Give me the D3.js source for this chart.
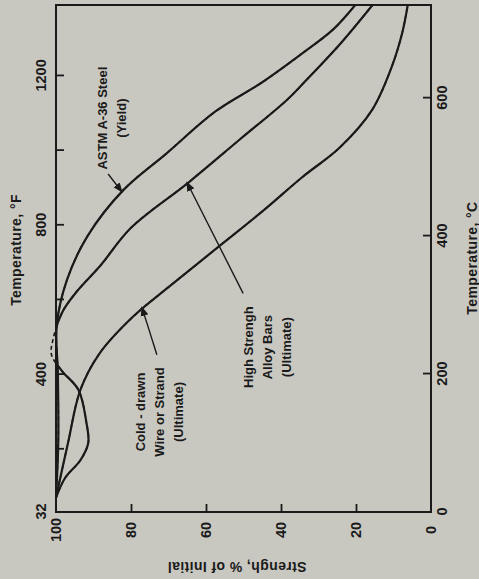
<!DOCTYPE html>
<html>
<head>
<meta charset="utf-8">
<script src="https://cdn.jsdelivr.net/npm/d3@7"></script>
<style>
  body { margin: 0; background: #c9c8c0; }
  svg { display: block; }
  .tick text { font-family: "Liberation Sans", Arial, sans-serif; font-size: 14.5px; font-weight: bold; fill: #1a1a1a; }
  .note { font-family: "Liberation Sans", Arial, sans-serif; font-size: 13px; font-weight: bold; fill: #1a1a1a; }
  .title { font-family: "Liberation Sans", Arial, sans-serif; font-size: 14px; font-weight: bold; fill: #1a1a1a; letter-spacing: 0.4px; }
</style>
</head>
<body>
<div id="chart"></div>
<script>
// ASTM A-36 steel, yield strength (% of initial) vs temperature (deg C)
const astmTemp     = [21, 100, 200, 271, 336, 400, 467, 520, 581, 623, 667, 700, 735];
const astmStrength = [100, 99.4, 99.5, 99.8, 97.1, 91.6, 82, 70.5, 57.4, 45, 33.8, 26, 20.2];

// high strength alloy bars, ultimate
const barsTemp     = [21, 50, 75, 100, 130, 177, 205, 228, 250, 290, 320, 357, 412, 478, 540, 597, 623, 680, 735];
const barsStrength = [100, 97.5, 93.5, 91.4, 91.9, 94, 98.5, 101.2, 100.8, 98.3, 94.4, 88.2, 80, 64.6, 51, 38.5, 33.8, 24, 15.6];

// cold-drawn wire or strand, ultimate
const wireTemp     = [21, 100, 177, 229, 283, 326, 390, 438, 486, 528, 583, 645, 694, 735];
const wireStrength = [100, 96.8, 93.5, 88.5, 79.5, 70, 55.4, 44.5, 34.2, 24.4, 15.7, 10.5, 7.7, 6.2];

const fTicks = [32, 200, 400, 600, 800, 1000, 1200];
const fLabels = [32, 400, 800, 1200];
const cTicks = [0, 200, 400, 600];
const strengthTicks = [0, 20, 40, 60, 80, 100];

const width = 479, height = 579;
const frame = { left: 56, right: 431, top: 5, bottom: 512 };
const W = frame.bottom - frame.top;   // temperature runs up the page
const H = frame.right - frame.left;   // strength runs across the page

const svg = d3.select("#chart").append("svg")
    .attr("width", width)
    .attr("height", height);

// the figure is printed turned on its side, so build it upright and rotate
const g = svg.append("g")
    .attr("transform", "translate(" + frame.left + "," + frame.bottom + ") rotate(-90)");

const x = d3.scaleLinear().domain([0, 735]).range([0, W]);
// the printed deg F scale does not sit exactly on the deg C one
const xF = d3.scaleLinear().domain([32, 1390]).range([0, W]);
const y = d3.scaleLinear().domain([0, 100]).range([H, 0]);

g.append("clipPath").attr("id", "plot-clip")
    .append("rect").attr("width", W).attr("height", H);

g.append("rect")
    .attr("width", W).attr("height", H)
    .attr("fill", "none").attr("stroke", "#1a1a1a").attr("stroke-width", 2);

// deg F along the top (page left)
const fAxis = d3.axisTop(xF)
    .tickValues(fTicks)
    .tickSizeInner(-8).tickSizeOuter(0).tickPadding(10)
    .tickFormat(d => fLabels.includes(d) ? d : "");
g.append("g").attr("class", "faxis").call(fAxis);

// deg C along the bottom (page right)
const cAxis = d3.axisBottom(x)
    .tickValues(cTicks)
    .tickSizeInner(-8).tickSizeOuter(0).tickPadding(6);
g.append("g").attr("class", "caxis").attr("transform", "translate(0," + H + ")").call(cAxis);

// strength on the left (page bottom)
const sAxis = d3.axisLeft(y)
    .tickValues(strengthTicks)
    .tickSizeInner(-8).tickSizeOuter(0).tickPadding(6);
const sG = g.append("g").attr("class", "saxis").call(sAxis);
sG.selectAll("text").attr("x", -18).attr("text-anchor", "middle");

g.selectAll(".domain").attr("stroke", "none");
g.selectAll(".tick line").attr("stroke", "#1a1a1a").attr("stroke-width", 1.8);
g.selectAll(".caxis .tick, .saxis .tick").filter(d => d === 0 || d === 100).select("line").remove();
g.selectAll(".faxis .tick").filter(d => d === 32).select("line").remove();

const line = d3.line()
    .x(d => x(d[0]))
    .y(d => y(d[1]))
    .curve(d3.curveCatmullRom.alpha(0.5));

const series = [
    d3.zip(astmTemp, astmStrength),
    d3.zip(barsTemp, barsStrength),
    d3.zip(wireTemp, wireStrength)
];

// where a curve leaves the frame it is dashed
g.selectAll(".curve-out").data(series).enter()
    .append("path")
    .attr("d", line)
    .attr("fill", "none")
    .attr("stroke", "#1a1a1a")
    .attr("stroke-width", 1.6)
    .attr("stroke-dasharray", "4,3");

g.selectAll(".curve").data(series).enter()
    .append("path")
    .attr("d", line)
    .attr("fill", "none")
    .attr("stroke", "#1a1a1a")
    .attr("stroke-width", 2.2)
    .attr("clip-path", "url(#plot-clip)");

// labels with arrows: at = [deg C, % strength] of the first line's centre
const notes = [
    { lines: ["ASTM A-36 Steel", "(Yield)"], at: [571, 87.5], from: [490, 86.1], to: [464, 82.4] },
    { lines: ["High Strengh", "Alloy Bars", "(Ultimate)"], at: [239, 48.8], from: [317, 50.1], to: [478, 65.1] },
    { lines: ["Cold - drawn", "Wire or Strand", "(Ultimate)"], at: [145, 77.6], from: [228, 73.1], to: [297, 77.1] }
];

const defs = svg.append("defs");
defs.append("marker")
    .attr("id", "head")
    .attr("viewBox", "0 0 10 10")
    .attr("refX", 9).attr("refY", 5)
    .attr("markerWidth", 7).attr("markerHeight", 7)
    .attr("orient", "auto")
    .append("path").attr("d", "M0,1L10,5L0,9Z").attr("fill", "#1a1a1a");

notes.forEach(n => {
    const t = g.append("text").attr("class", "note")
        .attr("text-anchor", "middle");
    n.lines.forEach((s, i) => {
        t.append("tspan")
            .attr("x", x(n.at[0]))
            .attr("y", y(n.at[1]) + i * 19)
            .attr("dy", "0.35em")
            .text(s);
    });
    g.append("line")
        .attr("x1", x(n.from[0])).attr("y1", y(n.from[1]))
        .attr("x2", x(n.to[0])).attr("y2", y(n.to[1]))
        .attr("stroke", "#1a1a1a").attr("stroke-width", 1.4)
        .attr("marker-end", "url(#head)");
});

// axis titles
g.append("text").attr("class", "title")
    .attr("x", 262).attr("y", -40).attr("dy", "0.35em")
    .attr("text-anchor", "middle")
    .text("Temperature, °F");

g.append("text").attr("class", "title")
    .attr("x", 254).attr("y", H + 41).attr("dy", "0.35em")
    .attr("text-anchor", "middle")
    .text("Temperature, °C");

g.append("text").attr("class", "title")
    .attr("transform", "translate(-55,181) rotate(-90)")
    .attr("dy", "0.35em")
    .attr("text-anchor", "middle")
    .text("Strengh, % of Initial");
</script>
</body>
</html>
